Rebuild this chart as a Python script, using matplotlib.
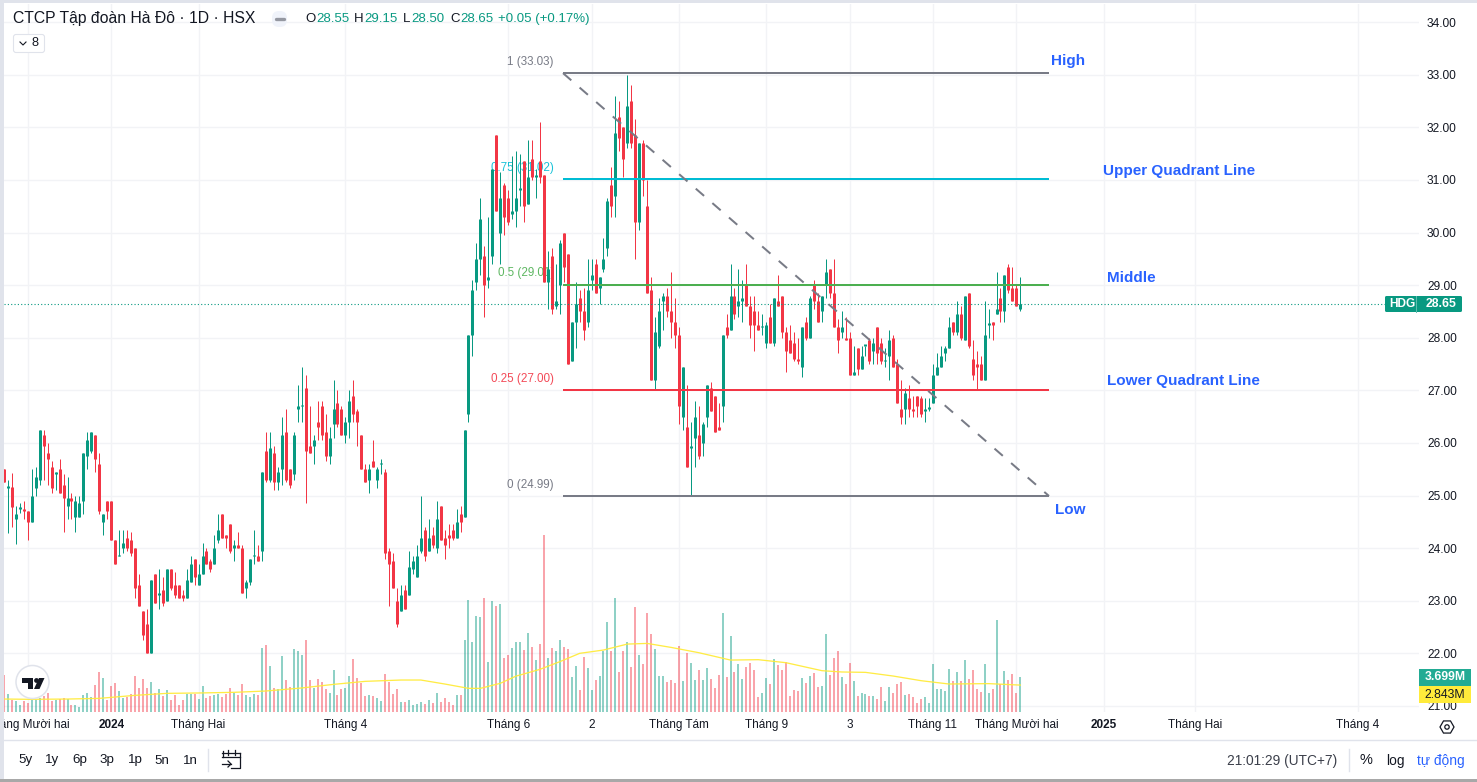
import numpy as np
import matplotlib
matplotlib.use("Agg")
import matplotlib.pyplot as plt
from matplotlib.patches import Rectangle, Circle, Polygon, FancyBboxPatch

opens = [25.5,25.15,25.16,24.55,24.75,24.75,24.7,24.5,25.15,25.3,
26.15,25.8,25.55,25.4,25.5,25.2,24.8,24.95,24.6,24.6,
24.9,25.75,25.85,26.15,25.6,24.5,24.9,24.9,24.15,23.85,
24.0,24.2,24.15,24.0,23.3,22.8,22.55,22.0,23.5,23.1,
23.2,23.0,23.6,23.3,23.3,23.1,23.05,23.35,23.8,23.3,
23.5,23.95,23.75,23.7,24.15,24.65,24.25,24.45,24.0,24.05,
24.0,23.25,23.35,23.85,23.85,23.95,25.85,25.3,25.8,25.25,
25.5,26.2,25.5,25.4,26.65,26.7,27.05,25.95,25.95,26.4,
26.7,26.2,25.75,26.35,26.75,26.65,26.15,26.4,26.9,26.6,
26.15,25.5,25.3,25.65,25.3,25.6,25.45,23.95,23.75,23.0,
22.8,23.2,23.1,23.6,23.45,23.95,24.35,23.95,24.25,24.0,
24.8,24.2,24.25,24.35,24.2,24.65,24.6,26.55,28.05,29.05,
29.5,29.55,29.1,29.55,31.85,30.0,30.9,30.65,30.35,30.4,
30.8,31.35,30.55,31.4,31.05,31.35,31.1,29.05,29.55,28.6,
29.0,30.0,29.6,27.55,28.3,28.75,28.5,28.3,29.1,29.4,
28.95,29.3,29.7,30.9,30.7,32.2,32.0,31.7,32.5,31.85,
30.2,31.7,30.5,28.9,27.2,27.85,28.7,28.8,28.5,28.3,
28.05,26.5,26.3,25.9,26.1,26.15,26.0,26.5,27.05,26.9,
26.3,26.7,28.2,28.15,28.8,28.6,28.7,29.0,28.6,28.5,
28.25,28.2,27.9,28.4,27.9,28.7,28.8,28.1,27.95,27.9,
27.6,27.45,28.3,28.0,29.0,28.7,28.5,29.0,29.3,28.85,
28.2,28.1,28.0,28.0,27.3,27.8,27.4,27.85,27.95,27.75,
28.2,27.9,27.55,27.65,28.0,27.5,26.65,26.65,26.85,26.65,
26.9,26.85,26.6,26.65,26.75,27.3,27.45,27.7,27.8,28.3,
28.1,28.45,27.95,28.85,27.6,27.5,27.5,27.2,28.25,28.3,
28.45,28.75,28.5,29.35,28.95,28.95,28.55]

highs = [25.5,25.3,25.43,24.8,24.86,24.9,24.7,25.5,25.55,26.25,
26.25,26.0,25.65,25.45,25.7,25.4,25.35,25.05,25.0,25.0,
25.8,26.2,26.2,26.15,25.8,24.65,24.9,24.9,24.15,24.35,
24.35,24.35,24.3,24.0,23.5,22.8,22.85,23.4,23.5,23.6,
23.45,23.6,23.6,23.55,23.3,23.2,23.6,23.85,23.8,23.7,
24.1,24.0,23.8,24.25,24.65,24.65,24.25,24.45,24.15,24.3,
24.05,23.4,23.8,24.35,24.05,25.45,26.2,26.2,25.95,25.55,
26.5,26.65,25.5,26.2,27.1,27.45,27.3,26.7,26.15,26.8,
26.8,26.55,26.3,27.2,27.0,26.7,26.5,27.0,27.2,26.65,
26.15,25.6,25.6,26.05,25.55,25.7,25.5,24.0,23.9,23.25,
23.3,23.3,23.95,23.85,24.05,25.0,24.4,24.55,24.4,24.9,
24.8,24.35,24.45,24.45,24.75,24.8,26.25,28.05,29.1,29.8,
30.65,29.75,30.3,31.2,31.85,31.15,30.95,30.8,31.45,31.55,
31.5,31.35,31.75,31.75,31.2,32.1,31.1,29.65,29.7,29.4,
29.85,30.0,29.6,28.3,29.05,28.9,28.95,29.5,29.5,29.5,
29.15,29.9,30.65,31.25,32.6,32.5,32.0,33.0,32.8,32.15,
31.7,31.75,31.0,29.15,28.4,28.75,28.85,28.95,29.25,28.75,
28.2,27.45,27.1,26.4,26.8,26.7,26.4,27.1,27.15,26.9,
26.75,28.05,28.45,29.4,28.95,29.3,29.1,29.4,28.8,28.8,
28.5,28.45,28.3,28.65,28.75,29.2,28.8,28.2,28.25,28.1,
28.0,28.2,28.4,28.8,29.1,28.85,28.8,29.5,29.3,29.5,
28.35,28.5,28.4,28.1,27.85,27.8,27.85,27.85,28.0,28.0,
28.2,28.0,27.8,28.15,28.05,27.6,27.2,27.05,27.1,26.9,
26.9,26.9,26.85,26.85,27.5,27.7,27.85,27.85,28.4,28.3,
28.7,28.6,28.8,28.85,27.95,27.75,27.65,28.7,28.55,28.3,
29.25,28.95,29.2,29.4,29.35,29.0,29.15]

lows = [25.25,24.28,24.4,24.08,24.67,24.55,24.15,24.5,25.0,25.2,
25.3,25.2,25.05,25.1,25.05,24.3,24.55,24.55,24.3,24.6,
24.65,25.5,25.8,25.45,24.65,24.25,24.55,24.15,23.7,23.85,
23.9,23.95,23.85,23.05,22.9,22.25,22.0,22.0,22.95,22.85,
22.9,23.0,23.2,23.05,23.05,23.0,23.05,23.35,23.3,23.3,
23.5,23.7,23.55,23.7,24.1,24.2,24.0,23.9,23.75,24.0,
23.15,23.05,23.3,23.7,23.75,23.75,25.25,25.25,25.1,25.1,
25.2,25.25,25.15,25.3,26.4,26.4,24.85,25.8,25.6,26.05,
26.05,25.65,25.6,26.1,26.3,26.15,26.0,26.1,26.4,25.95,
25.5,25.25,25.05,25.55,25.15,25.4,23.8,22.9,23.25,22.5,
22.8,22.85,23.1,23.5,23.45,23.9,23.75,23.95,24.0,23.9,
24.15,23.8,24.0,24.15,24.2,24.3,24.6,26.4,27.65,28.9,
29.2,28.4,28.95,29.4,30.4,29.4,29.95,30.15,30.25,30.1,
30.5,30.2,30.55,31.0,30.65,30.95,29.05,28.55,28.45,28.55,
28.45,29.05,27.5,27.55,27.8,28.3,27.95,28.2,28.9,28.85,
28.65,29.25,29.55,30.3,30.3,31.55,31.05,31.6,31.6,29.5,
30.05,30.7,28.85,27.2,27.0,27.8,28.15,28.4,28.0,27.8,
26.35,26.25,25.55,25.0,25.55,25.7,25.75,26.3,26.6,26.2,
26.25,26.4,28.0,28.15,28.35,28.4,28.3,28.6,28.0,27.75,
28.15,28.05,27.8,27.9,27.85,28.6,28.0,27.35,27.7,27.55,
27.5,27.25,27.95,28.0,28.55,28.3,28.3,28.75,28.75,28.2,
27.7,28.0,27.95,27.3,27.3,27.3,27.4,27.65,27.5,27.5,
27.5,27.5,27.45,27.2,27.45,26.75,26.35,26.35,26.5,26.5,
26.5,26.5,26.4,26.6,26.75,27.3,27.45,27.55,27.8,28.05,
28.05,27.95,27.95,27.8,27.2,27.0,27.2,27.2,28.0,27.95,
28.45,28.3,28.3,28.85,28.7,28.6,28.5]

closes = [25.25,25.15,24.78,24.65,24.75,24.7,24.5,25.0,25.35,26.25,
25.95,25.7,25.15,25.45,25.05,24.95,24.95,24.9,24.9,24.85,
25.8,26.05,26.2,25.7,24.7,24.65,24.7,24.15,23.7,23.85,
24.1,24.0,23.9,23.25,22.9,22.35,22.0,23.4,22.95,23.15,
22.95,23.6,23.25,23.1,23.05,23.05,23.4,23.7,23.45,23.5,
23.85,23.7,23.6,24.0,24.35,24.2,24.2,23.95,24.05,24.0,
23.15,23.35,23.8,23.85,23.75,25.45,25.3,25.9,25.25,25.45,
26.15,25.3,25.2,26.15,26.7,26.7,25.85,25.8,26.05,26.3,
26.15,25.75,26.1,26.65,26.35,26.15,26.4,26.8,26.55,26.4,
25.5,25.25,25.5,25.55,25.5,25.6,23.9,23.7,23.25,22.55,
23.1,22.85,23.65,23.75,23.85,24.2,23.85,24.2,24.05,24.55,
24.15,24.05,24.2,24.2,24.5,24.5,26.25,28.05,28.9,29.5,
30.25,29.0,29.15,31.2,30.4,30.65,30.3,30.2,30.4,30.65,
30.85,30.5,31.05,31.05,31.1,31.05,29.05,29.3,28.55,28.7,
29.8,29.35,27.5,28.3,28.65,28.5,28.15,28.9,29.2,28.85,
29.15,29.5,30.6,30.5,31.9,31.8,31.4,32.4,31.7,30.2,
31.7,31.0,28.85,27.2,28.1,28.5,28.8,28.5,28.3,28.05,
26.7,27.45,25.55,25.95,26.5,25.75,26.35,27.1,26.6,26.2,
26.25,28.05,28.05,28.8,28.45,28.7,28.75,28.6,28.25,28.25,
28.15,28.2,28.25,27.9,28.75,28.6,28.1,27.75,27.7,27.6,
27.55,28.2,28.0,28.75,28.7,28.3,28.8,29.25,28.85,28.2,
27.95,28.2,27.95,27.3,27.35,27.4,27.65,27.85,27.55,27.9,
27.7,27.55,27.55,27.95,27.45,26.75,26.5,26.95,26.65,26.6,
26.7,26.55,26.65,26.65,27.3,27.45,27.65,27.8,28.2,28.1,
28.45,28.0,28.8,27.85,27.3,27.45,27.2,28.05,28.25,28.25,
28.55,28.5,29.2,28.9,28.7,28.6,28.65]

volumes = [3.91,1.90,1.27,1.16,0.74,1.16,0.95,1.27,1.27,1.48,
1.69,2.01,1.16,1.27,1.37,1.48,1.37,0.74,0.74,0.53,
1.80,2.01,1.58,2.85,4.23,3.59,1.27,2.75,3.06,2.22,
1.48,1.58,1.90,3.80,2.54,3.49,2.54,3.17,2.01,2.43,
1.69,2.32,1.27,1.80,0.74,1.27,1.90,1.90,1.90,1.37,
2.75,1.48,1.69,1.80,1.90,1.58,1.90,2.54,2.01,1.80,
2.96,1.80,1.58,1.90,1.80,6.76,7.08,4.86,2.54,2.43,
5.92,3.38,2.64,6.65,6.44,6.02,7.61,3.38,2.54,3.49,
3.17,2.43,2.01,4.44,1.80,2.43,2.54,3.80,5.60,3.59,
3.06,1.69,1.80,1.69,1.48,1.16,4.01,3.17,1.90,2.43,
1.06,1.06,1.27,0.74,0.85,1.06,0.85,1.27,0.95,2.01,
1.06,1.48,1.06,0.74,1.80,1.80,7.61,11.83,7.39,10.14,
10.04,12.04,5.28,11.73,11.20,11.41,5.70,6.02,6.76,7.39,
7.39,6.55,8.35,6.87,5.49,7.18,18.7,5.70,6.76,6.44,
7.61,6.87,6.65,3.70,4.86,2.32,5.81,4.65,2.32,3.38,
3.80,6.44,9.51,6.44,12.04,4.23,6.44,7.39,4.75,11.09,
6.02,5.07,10.46,8.24,6.65,3.80,3.80,3.17,3.38,3.06,
6.97,3.27,6.23,5.18,3.38,4.44,3.38,4.65,3.49,2.54,
3.91,10.46,3.70,8.03,4.23,5.07,3.49,4.75,5.18,4.44,
1.58,2.01,3.59,2.96,5.60,4.96,4.44,5.28,1.69,2.32,
2.22,3.59,3.06,3.80,4.12,2.64,2.75,8.24,3.91,5.70,
6.44,3.70,2.96,5.18,3.27,1.69,2.01,1.90,1.69,1.69,
1.37,2.64,1.16,2.64,2.01,2.96,3.17,1.80,1.90,1.58,
0.95,1.37,1.58,0.95,5.07,2.43,2.43,2.22,4.54,3.27,
4.23,3.27,5.49,3.49,4.44,2.43,2.11,5.07,2.01,2.43,
9.72,2.96,4.33,3.38,4.01,2.01,3.699]

ma_index = [0,7,16,24,33,41,49,58,66,75,83,91,100,105,111,117,120,125,129,130,135,140,145,151,157,162,168,175,183,190,197,206,211,217,224,231,238,248,256]
ma_values = [1.37,1.34,1.37,1.44,1.76,1.97,2.01,2.08,2.22,2.54,2.92,3.24,3.38,3.38,2.96,2.50,2.50,3.03,3.80,3.91,4.51,5.32,6.20,6.55,7.18,7.25,6.83,6.27,5.49,5.53,5.21,4.37,4.23,4.19,3.80,3.31,2.96,3.00,2.843]

price_ticks = [21,22,23,24,25,26,27,28,29,30,31,32,33,34]
time_ticks = [6,27,49,86,127,148,170,192,213,234,255,277,300,341]
time_labels = ["Tháng Mười hai","2024","Tháng Hai","Tháng 4","Tháng 6","2","Tháng Tám","Tháng 9","3","Tháng 11","Tháng Mười hai","2025","Tháng Hai","Tháng 4"]
fib_levels = [33.03,31.02,29.01,27.00,24.99]
fib_names = ["1 (33.03)","0.75 (31.02)","0.5 (29.01)","0.25 (27.00)","0 (24.99)"]
fib_colors = ["#787B86","#00BCD4","#4CAF50","#F23645","#787B86"]
last_price = 28.65

GREEN, RED = "#089981", "#F23645"
GRID = "#F2F3F6"
W, H = 1477, 782
plt.rcParams["font.family"] = ["Liberation Sans", "DejaVu Sans"]
fig = plt.figure(figsize=(W/100, H/100), dpi=100, facecolor="white")

L, R, T, B = 4, 1419, 4, 712
pos = [L/W, 1-B/H, (R-L)/W, (B-T)/H]
STEP = 3.97
xlim = (0, (R-L)/STEP)
ylim_price = (25+(495.5-B)/52.6, 25+(495.5-T)/52.6)
px = 72/100  # points per pixel

# grid pane (lowest)
axg = fig.add_axes(pos, zorder=0, facecolor="white")
axg.set_xlim(xlim); axg.set_ylim(ylim_price)
axg.set_xticks(time_ticks); axg.set_yticks(price_ticks)
axg.set_xticklabels([]); axg.set_yticklabels([])
axg.tick_params(length=0)
for s in axg.spines.values(): s.set_visible(False)
axg.grid(True, color=GRID, lw=1*px*1.4)

idx = np.arange(len(closes))
o, h, l, c = map(np.array, (opens, highs, lows, closes))
up = c >= o
cols = [GREEN if u else RED for u in up]

# volume pane
axv = fig.add_axes(pos, zorder=1, facecolor="none")
axv.set_xlim(xlim); axv.set_ylim(0, (B-T)/9.46)
axv.axis("off")
vb = axv.vlines(idx, 0, volumes, colors=cols, lw=2*px, alpha=0.45, capstyle="butt")
vb.set_snap(True)
axv.plot(ma_index, ma_values, color="#FFEB3B", lw=1.3*px, alpha=0.95)

# price pane
ax = fig.add_axes(pos, zorder=2, facecolor="none")
ax.set_xlim(xlim); ax.set_ylim(ylim_price)
for s in ax.spines.values(): s.set_visible(False)
ax.yaxis.tick_right()
ax.set_yticks(price_ticks)
ax.set_yticklabels([f"{p:.2f}" for p in price_ticks], fontsize=8.6, color="#131722")
ax.set_xticks(time_ticks)
xl = ax.set_xticklabels(time_labels, fontsize=8.5, color="#131722")
for t, lab in zip(xl, time_labels):
    if lab.isdigit() and len(lab) == 4:
        t.set_fontweight("bold")
ax.tick_params(axis="y", length=0, pad=8*px)
ax.tick_params(axis="x", length=0, pad=7*px)

for fl, fn, fc in zip(fib_levels, fib_names, fib_colors):
    ax.text(138.5, fl+0.215, fn, ha="right", va="center", fontsize=8.4, color=fc, zorder=1.5,
            alpha=0.9 if fc != "#787B86" else 1)

wk = ax.vlines(idx, l, h, colors=cols, lw=1*px, zorder=3, capstyle="butt")
wk.set_snap(True)
bd = ax.vlines(idx, np.minimum(o, c), np.minimum(o, c)+np.maximum(np.abs(c-o), 0.025),
               colors=cols, lw=3*px, zorder=3, capstyle="butt")
bd.set_snap(True)

ax.axhline(last_price, color=GREEN, lw=0.8, ls=(0, (1, 2)), zorder=3.5)

x0, x1 = (563-L)/STEP, (1049-L)/STEP
for fl, fc in zip(fib_levels, fib_colors):
    ax.plot([x0, x1], [fl, fl], color=fc, lw=2*px, zorder=4, solid_capstyle="butt")
ax.plot([x0, x1], [fib_levels[0], fib_levels[-1]], color="#787B86", lw=2*px, ls=(0, (5.5, 5.5)), zorder=4)

# overlay UI in pixel coordinates
ui = fig.add_axes([0, 0, 1, 1], zorder=5, facecolor="none")
ui.set_xlim(0, W); ui.set_ylim(H, 0); ui.axis("off")

def T_(x, y, s, fs=9.4, col="#131722", ha="left", va="center", **kw):
    return ui.text(x, y, s, fontsize=fs, color=col, ha=ha, va=va, **kw)

# frame
ui.add_patch(Rectangle((0, 0), 4, H, color="#E0E3EB", lw=0))
ui.add_patch(Rectangle((0, 0), W, 3, color="#E0E3EB", lw=0))
ui.add_patch(Rectangle((0, 779), W, 3, color="#A8A8A8", lw=0))
ui.plot([4, W], [740, 740], color="#E0E3EB", lw=1)

# header
T_(13, 19, "CTCP Tập đoàn Hà Đô · 1D · HSX", fs=11.3)
ui.add_patch(FancyBboxPatch((272, 11), 15, 16, boxstyle="round,pad=0,rounding_size=7", fc="#F0F3FA", ec="none"))
ui.plot([275.5, 283.5], [19, 19], color="#9598A1", lw=2.4, solid_capstyle="round")
for x, s, col in [(305, "O", "#131722"), (316, "28.55", GREEN), (354, "H", "#131722"), (364, "29.15", GREEN),
                  (403, "L", "#131722"), (411, "28.50", GREEN), (450, "C", "#131722"), (460, "28.65", GREEN),
                  (498, "+0.05 (+0.17%)", GREEN)]:
    T_(x, 19, s, fs=9.5, col=col)
ui.add_patch(FancyBboxPatch((13.5, 34.5), 31, 18, boxstyle="round,pad=0,rounding_size=2.5", fc="white", ec="#E0E3EB", lw=0.8))
ui.plot([20, 23, 26], [42, 45, 42], color="#131722", lw=0.8)
T_(32, 43, "8", fs=9.2)

# annotations
for x, y, s in [(1051, 60.5, "High"), (1103, 170.5, "Upper Quadrant Line"), (1107, 277.5, "Middle"),
                (1107, 381.5, "Lower Quadrant Line"), (1055, 510.5, "Low")]:
    T_(x, y, s, fs=11.0, col="#2962FF", fontweight="bold")

# price labels
ui.add_patch(FancyBboxPatch((1385, 296), 77, 16, boxstyle="round,pad=0,rounding_size=1.5", fc=GREEN, ec="none"))
ui.plot([1415.5, 1415.5], [296, 312], color="#5FBFAF", lw=0.7)
T_(1402, 304, "HDG", fs=8.6, col="white", ha="center", fontweight="bold")
T_(1441, 304, "28.65", fs=8.8, col="white", ha="center", fontweight="bold")
ui.add_patch(Rectangle((1419, 669), 52, 17, color="#22AB94", lw=0))
ui.add_patch(Rectangle((1419, 686), 52, 17, color="#FFEB3B", lw=0))
T_(1445, 677.5, "3.699M", fs=8.8, col="white", ha="center", fontweight="bold")
T_(1445, 695, "2.843M", fs=8.8, col="#131722", ha="center")

# gear
ang = np.deg2rad(np.arange(0, 360, 60))
ui.add_patch(Polygon(np.c_[1447+7*np.cos(ang), 727+7*np.sin(ang)], closed=True, fc="white", ec="#131722", lw=0.9))
ui.add_patch(Circle((1447, 727), 2.2, fc="white", ec="#131722", lw=0.9))

# logo
ui.add_patch(Circle((32.5, 682), 16.5, fc="white", ec="#E0E3EB", lw=1.1))
ui.add_patch(Polygon([(22, 678), (33, 678), (33, 689), (28, 689), (28, 683), (22, 683)], closed=True, fc="#131722", ec="none"))
ui.add_patch(Circle((36.5, 680.5), 2.4, fc="#131722", ec="none"))
ui.add_patch(Polygon([(39, 678), (44.5, 678), (39.5, 689), (34, 689)], closed=True, fc="#131722", ec="none"))

# footer
for x, s in [(18, "5y"), (45, "1y"), (72, "6p"), (99, "3p"), (128, "1p"), (154, "5n"), (183, "1n")]:
    T_(x, 760.5, s, fs=9.6)
ui.plot([208, 208], [749, 771], color="#E0E3EB", lw=1)
ui.plot([223, 223], [751, 757], color="#131722", lw=0.9)
ui.plot([222, 240], [753, 753], color="#131722", lw=0.9)
ui.plot([222, 240], [757, 757], color="#131722", lw=0.9)
ui.plot([240, 240, 231], [753, 768, 768], color="#131722", lw=0.9)
ui.plot([228, 228], [750, 755], color="#131722", lw=0.9)
ui.plot([235, 235], [750, 755], color="#131722", lw=0.9)
ui.plot([222, 231], [764, 764], color="#131722", lw=0.9)
ui.plot([228, 231, 228], [761, 764, 767], color="#131722", lw=0.9)
T_(1227, 760.5, "21:01:29 (UTC+7)", fs=9.9, col="#3B3F4A")
ui.plot([1349, 1349], [749, 771], color="#E0E3EB", lw=1)
T_(1360, 760.5, "%", fs=10.5)
T_(1386, 760.5, "log", fs=9.9)
T_(1417, 760.5, "tự động", fs=9.9, col="#2962FF")

fig.savefig("out.png", dpi=100, facecolor="white")
